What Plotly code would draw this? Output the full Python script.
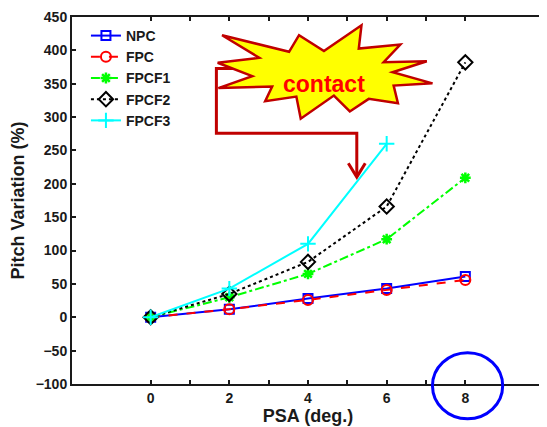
import plotly.graph_objects as go

# ---- data ----
psa = [0, 2, 4, 6, 8]
psa_fpcf3 = [0, 2, 4, 6]
npc = [0, 12, 28, 43, 61]
fpc = [0, 12, 26, 41, 56]
fpcf1 = [0, 30, 65, 117, 209]
fpcf2 = [0, 35, 83, 166, 382]
fpcf3 = [0, 43, 110, 260]

x_tickvals = [0, 1, 2, 3, 4, 5, 6, 7, 8]
x_ticktext = ["0", "", "2", "", "4", "", "6", "", "8"]
y_tickvals = [-100, -50, 0, 50, 100, 150, 200, 250, 300, 350, 400, 450]

# ---- layout geometry (pixels) ----
OFF = 8                      # page body margin
W, H = 547 - OFF, 427 - OFF
ML, MR, MT, MB = 72 - OFF, 1, 15 - OFF, 43
PW = W - ML - MR
PH = H - MT - MB


def px(x):
    # x given in window pixels
    return (x - OFF - ML) / PW


def py(y):
    return (H - MB - (y - OFF)) / PH


FONT = "Liberation Sans, Arial, sans-serif"

fig = go.Figure()
fig.add_trace(go.Scatter(x=psa, y=npc, name="NPC", mode="lines+markers",
                         line=dict(color="#0000ff", width=2),
                         marker=dict(symbol="square-open", size=9, color="#0000ff",
                                     line=dict(width=2))))
fig.add_trace(go.Scatter(x=psa, y=fpc, name="FPC", mode="lines+markers",
                         line=dict(color="#ff0000", width=2, dash="dash"),
                         marker=dict(symbol="circle-open", size=10, color="#ff0000",
                                     line=dict(width=2))))
fig.add_trace(go.Scatter(x=psa, y=fpcf1, name="FPCF1", mode="lines+markers",
                         line=dict(color="#00ff00", width=2, dash="dashdot"),
                         marker=dict(symbol="asterisk-open", size=9, color="#00ff00",
                                     line=dict(width=2.5, color="#00ff00"))))
fig.add_trace(go.Scatter(x=psa, y=fpcf2, name="FPCF2", mode="lines+markers",
                         line=dict(color="#000000", width=2, dash="dot"),
                         marker=dict(symbol="diamond-open", size=11, color="#000000",
                                     line=dict(width=2))))
fig.add_trace(go.Scatter(x=psa_fpcf3, y=fpcf3, name="FPCF3", mode="lines+markers",
                         line=dict(color="#00ffff", width=2),
                         marker=dict(symbol="cross-thin-open", size=11, color="#00ffff",
                                     line=dict(width=2, color="#00ffff"))))

# ---- decorations: elbow arrow, starburst, circle ----
DARKRED = "#c00000"
arrow_pts = [(245, 66.7), (217, 66.7), (217, 132), (358, 132), (358, 175)]
path = "M " + " L ".join(f"{px(a):.5f},{py(b):.5f}" for a, b in arrow_pts)
fig.add_shape(type="path", xref="paper", yref="paper", path=path,
              line=dict(color=DARKRED, width=3))
head_pts = [(349.5, 162), (358, 176), (366.5, 162)]
path = "M " + " L ".join(f"{px(a):.5f},{py(b):.5f}" for a, b in head_pts)
fig.add_shape(type="path", xref="paper", yref="paper", path=path,
              line=dict(color=DARKRED, width=3))

star_pts = [(222.7, 33.3), (290, 50), (300, 33.3), (325, 49.3), (362.7, 23.3),
            (360, 46.7), (401.7, 42.7), (385, 60.5), (428.3, 59.5), (394, 70.5),
            (434, 81.7), (395, 84), (399.3, 101.7), (370, 97.3), (351, 110),
            (335, 94), (301.7, 117.3), (297.3, 95), (266, 99.7), (273, 85),
            (219, 86.5), (253, 74.5), (218.3, 61), (260, 56)]
path = "M " + " L ".join(f"{px(a):.5f},{py(b):.5f}" for a, b in star_pts) + " Z"
fig.add_shape(type="path", xref="paper", yref="paper", path=path,
              fillcolor="#ffff00", line=dict(color=DARKRED, width=2.5))
fig.add_annotation(x=px(325), y=py(67.5), xref="paper", yref="paper",
                   text="contact", showarrow=False,
                   font=dict(family=FONT, size=23, color="#ff0000", weight="bold"))

fig.add_shape(type="circle", xref="paper", yref="paper",
              x0=px(434), x1=px(504.5), y0=py(352.5), y1=py(419),
              line=dict(color="#0000ff", width=3))

fig.update_layout(
    width=W, height=H,
    margin=dict(l=ML, r=MR, t=MT, b=MB),
    paper_bgcolor="white", plot_bgcolor="white",
    font=dict(family=FONT, size=14, color="#1a1a1a", weight="bold"),
    showlegend=True,
    legend=dict(x=px(86), y=py(18), xanchor="left", yanchor="top",
                bgcolor="rgba(0,0,0,0)", borderwidth=0,
                font=dict(family=FONT, size=14, color="#1a1a1a", weight="bold"),
                tracegroupgap=0),
    xaxis=dict(range=[-2, 10], tickmode="array", tickvals=x_tickvals, ticktext=x_ticktext,
               ticks="inside", ticklen=4, tickwidth=1.5, tickcolor="#1a1a1a",
               showline=True, linewidth=2, linecolor="#1a1a1a", mirror="ticks",
               showgrid=False, zeroline=False, ticklabeloverflow="allow",
               tickfont=dict(family=FONT, size=14, weight="bold"),
               title=dict(text="PSA (deg.)", standoff=3,
                          font=dict(family=FONT, size=18, weight="bold"))),
    yaxis=dict(range=[-100, 450], tickmode="array", tickvals=y_tickvals,
               ticks="inside", ticklen=4, tickwidth=1.5, tickcolor="#1a1a1a",
               showline=True, linewidth=2, linecolor="#1a1a1a", mirror="ticks",
               showgrid=False, zeroline=False, ticklabeloverflow="allow",
               tickfont=dict(family=FONT, size=14, weight="bold"),
               title=dict(text="Pitch Variation (%)", standoff=6,
                          font=dict(family=FONT, size=18, weight="bold"))),
)

fig.write_html("out.html")
